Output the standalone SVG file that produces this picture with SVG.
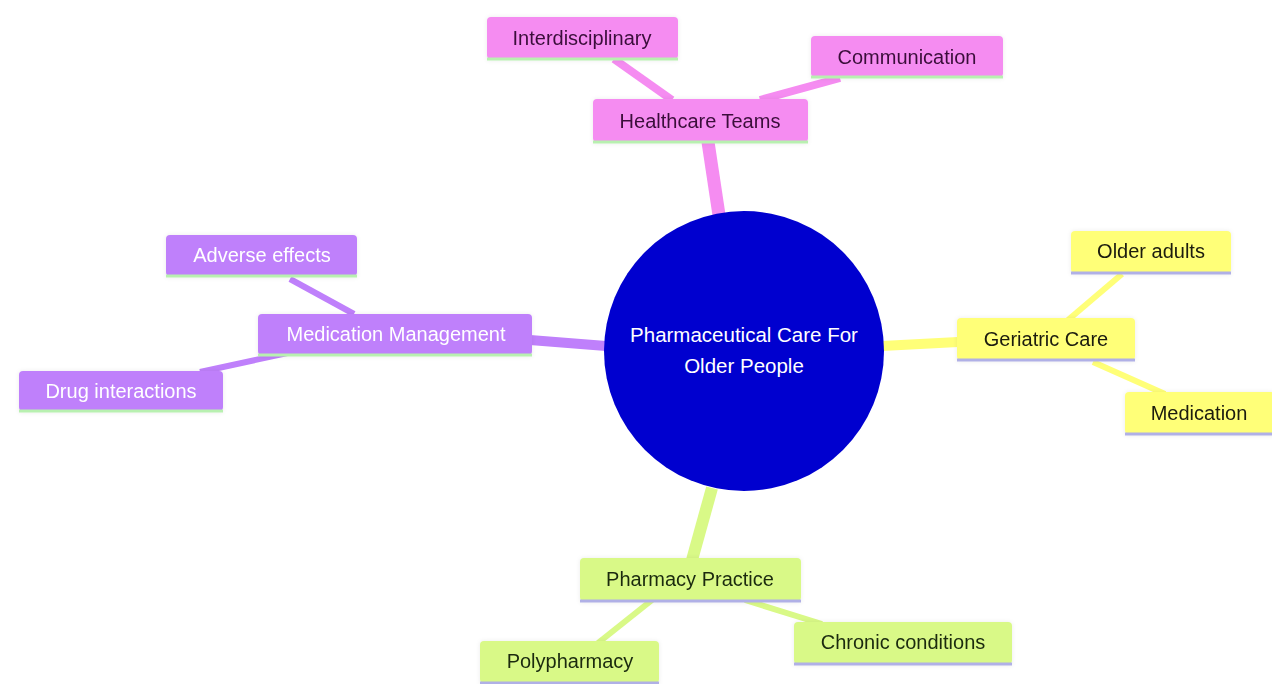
<svg xmlns="http://www.w3.org/2000/svg" width="1272" height="684" viewBox="0 0 1272 684">
<style>
  text { font-family: "Liberation Sans", Arial, sans-serif; font-size: 20px; text-anchor: middle; dominant-baseline: central; }
  .root text { font-size: 20.5px; fill: #ffffff; }
  .pink rect.b { fill: #f58cf1; }
  .pink text { fill: #3a0f3a; }
  .yel rect.b { fill: #ffff78; }
  .yel text { fill: #1a1a10; }
  .pur rect.b { fill: #bf80fb; }
  .pur text { fill: #ffffff; }
  .grn rect.b { fill: #d9f987; }
  .grn text { fill: #1a2a10; }
  .ug { stroke: #b8f0b0; stroke-width: 3; }
  .ul { stroke: #b0b0e6; stroke-width: 3; }
  .e { fill: none; stroke-linecap: butt; }
  .ep { stroke: #f58cf1; }
  .ey { stroke: #ffff78; }
  .eu { stroke: #bf80fb; }
  .eg { stroke: #d9f987; }
</style>
<defs>
  <filter id="sh" x="-10%" y="-20%" width="120%" height="140%">
    <feDropShadow dx="0" dy="0" stdDeviation="2" flood-color="#000" flood-opacity="0.08"/>
  </filter>
</defs>
<rect width="1272" height="684" fill="#ffffff"/>
<g id="connectors">
  <line class="e ep" x1="708" y1="142" x2="719" y2="215" stroke-width="13"/>
  <line class="e ep" x1="614" y1="59" x2="672" y2="100" stroke-width="8"/>
  <line class="e ep" x1="840" y1="78" x2="760" y2="100" stroke-width="8"/>
  <line class="e ey" x1="882" y1="346" x2="958" y2="342" stroke-width="10"/>
  <line class="e ey" x1="1068" y1="320" x2="1122" y2="274" stroke-width="6"/>
  <line class="e ey" x1="1093" y1="362" x2="1165" y2="394" stroke-width="6"/>
  <line class="e eu" x1="530" y1="340" x2="606" y2="346" stroke-width="10"/>
  <line class="e eu" x1="290" y1="279" x2="354" y2="314" stroke-width="6"/>
  <line class="e eu" x1="200" y1="372" x2="292" y2="352" stroke-width="6"/>
  <line class="e eg" x1="712" y1="488" x2="692" y2="560" stroke-width="12"/>
  <line class="e eg" x1="652" y1="600" x2="598" y2="643" stroke-width="6"/>
  <line class="e eg" x1="745" y1="600" x2="822" y2="624" stroke-width="6"/>
</g>
<g id="root" class="root">
  <circle cx="744" cy="351" r="140" fill="#0000cf"/>
  <text x="744" y="334">Pharmaceutical Care For</text>
  <text x="744" y="365">Older People</text>
</g>
<g id="healthcare-teams" class="pink" filter="url(#sh)">
  <rect class="b" x="593" y="99" width="215" height="43" rx="4"/>
  <line class="ug" x1="593" y1="142" x2="808" y2="142"/>
  <text x="700" y="121">Healthcare Teams</text>
</g>
<g id="interdisciplinary" class="pink" filter="url(#sh)">
  <rect class="b" x="487" y="17" width="191" height="42" rx="4"/>
  <line class="ug" x1="487" y1="59" x2="678" y2="59"/>
  <text x="582" y="38">Interdisciplinary</text>
</g>
<g id="communication" class="pink" filter="url(#sh)">
  <rect class="b" x="811" y="36" width="192" height="41" rx="4"/>
  <line class="ug" x1="811" y1="77" x2="1003" y2="77"/>
  <text x="907" y="57">Communication</text>
</g>
<g id="geriatric-care" class="yel" filter="url(#sh)">
  <rect class="b" x="957" y="318" width="178" height="42" rx="4"/>
  <line class="ul" x1="957" y1="360" x2="1135" y2="360"/>
  <text x="1046" y="339">Geriatric Care</text>
</g>
<g id="older-adults" class="yel" filter="url(#sh)">
  <rect class="b" x="1071" y="231" width="160" height="42" rx="4"/>
  <line class="ul" x1="1071" y1="273" x2="1231" y2="273"/>
  <text x="1151" y="251">Older adults</text>
</g>
<g id="medication" class="yel" filter="url(#sh)">
  <rect class="b" x="1125" y="392" width="150" height="42" rx="4"/>
  <line class="ul" x1="1125" y1="434" x2="1275" y2="434"/>
  <text x="1199" y="413">Medication</text>
</g>
<g id="medication-management" class="pur" filter="url(#sh)">
  <rect class="b" x="258" y="314" width="274" height="41" rx="4"/>
  <line class="ug" x1="258" y1="355" x2="532" y2="355"/>
  <text x="396" y="334">Medication Management</text>
</g>
<g id="adverse-effects" class="pur" filter="url(#sh)">
  <rect class="b" x="166" y="235" width="191" height="41" rx="4"/>
  <line class="ug" x1="166" y1="276" x2="357" y2="276"/>
  <text x="262" y="255">Adverse effects</text>
</g>
<g id="drug-interactions" class="pur" filter="url(#sh)">
  <rect class="b" x="19" y="371" width="204" height="40" rx="4"/>
  <line class="ug" x1="19" y1="411" x2="223" y2="411"/>
  <text x="121" y="391">Drug interactions</text>
</g>
<g id="pharmacy-practice" class="grn" filter="url(#sh)">
  <rect class="b" x="580" y="558" width="221" height="43" rx="4"/>
  <line class="ul" x1="580" y1="601" x2="801" y2="601"/>
  <text x="690" y="579">Pharmacy Practice</text>
</g>
<g id="polypharmacy" class="grn" filter="url(#sh)">
  <rect class="b" x="480" y="641" width="179" height="42" rx="4"/>
  <line class="ul" x1="480" y1="683" x2="659" y2="683"/>
  <text x="570" y="661">Polypharmacy</text>
</g>
<g id="chronic-conditions" class="grn" filter="url(#sh)">
  <rect class="b" x="794" y="622" width="218" height="42" rx="4"/>
  <line class="ul" x1="794" y1="664" x2="1012" y2="664"/>
  <text x="903" y="642">Chronic conditions</text>
</g>
</svg>
